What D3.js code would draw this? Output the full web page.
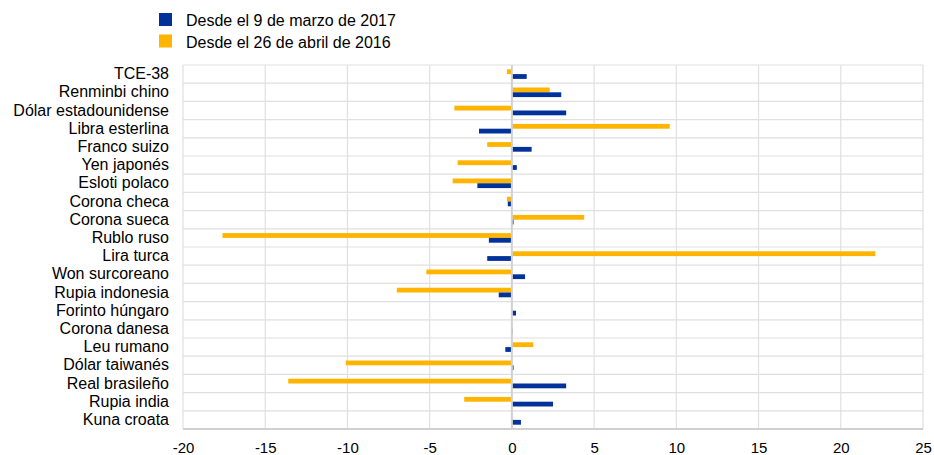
<!DOCTYPE html>
<html>
<head>
<meta charset="utf-8">
<script src="https://cdn.jsdelivr.net/npm/d3@7"></script>
<style>
  body { margin: 0; background: #fff; }
  svg { display: block; font-family: "Liberation Sans", Arial, sans-serif; }
</style>
</head>
<body>
<svg id="chart" width="934" height="455"></svg>
<script>
const categories = ["TCE-38", "Renminbi chino", "Dólar estadounidense", "Libra esterlina", "Franco suizo",
  "Yen japonés", "Esloti polaco", "Corona checa", "Corona sueca", "Rublo ruso", "Lira turca",
  "Won surcoreano", "Rupia indonesia", "Forinto húngaro", "Corona danesa", "Leu rumano",
  "Dólar taiwanés", "Real brasileño", "Rupia india", "Kuna croata"];
const seriesNames = ["Desde el 9 de marzo de 2017", "Desde el 26 de abril de 2016"];
const since2017 = [0.9, 3.0, 3.3, -2.0, 1.2, 0.3, -2.1, -0.25, 0.1, -1.4, -1.5, 0.8, -0.8, 0.25, 0.05, -0.4, 0.1, 3.3, 2.5, 0.55];
const since2016 = [-0.3, 2.3, -3.5, 9.6, -1.5, -3.3, -3.6, -0.3, 4.4, -17.6, 22.1, -5.2, -7.0, -0.05, 0.0, 1.3, -10.1, -13.6, -2.9, -0.05];
const xTicks = [-20, -15, -10, -5, 0, 5, 10, 15, 20, 25];
const colors = ["#003299", "#FFB400"];

const svg = d3.select("#chart");
const mLeft = 183, mRight = 923, mTop = 65, mBottom = 429;

const x = d3.scaleLinear().domain([-20, 25]).range([mLeft, mRight]);
const y = d3.scaleBand().domain(categories).range([mTop, mBottom]).paddingInner(0).paddingOuter(0);
// yellow (2016) drawn above blue (2017) in each band
const inner = d3.scaleBand().domain(["y2016", "y2017"]).range([0, y.bandwidth()]).paddingInner(0).paddingOuter(0.9);

// horizontal gridlines at band boundaries
const bounds = categories.map(c => y(c)).concat([mBottom]);
svg.append("g").selectAll("line").data(bounds).join("line")
  .attr("x1", mLeft).attr("x2", mRight)
  .attr("y1", d => d).attr("y2", d => d)
  .attr("stroke", "#e0e0e0").attr("stroke-width", 1.2);

// vertical gridlines
svg.append("g").selectAll("line").data(xTicks.filter(t => t !== 0)).join("line")
  .attr("x1", d => x(d)).attr("x2", d => x(d))
  .attr("y1", mTop).attr("y2", mBottom)
  .attr("stroke", "#e0e0e0").attr("stroke-width", 1.2);

// bars
const rows = categories.map((c, i) => ({ c, v2017: since2017[i], v2016: since2016[i] }));
const g = svg.append("g");
g.selectAll("rect.y16").data(rows).join("rect").attr("class", "y16")
  .attr("x", d => Math.min(x(0), x(d.v2016)))
  .attr("width", d => Math.abs(x(d.v2016) - x(0)))
  .attr("y", d => y(d.c) + inner("y2016"))
  .attr("height", inner.bandwidth())
  .attr("fill", colors[1]);
g.selectAll("rect.y17").data(rows).join("rect").attr("class", "y17")
  .attr("x", d => Math.min(x(0), x(d.v2017)))
  .attr("width", d => Math.abs(x(d.v2017) - x(0)))
  .attr("y", d => y(d.c) + inner("y2017"))
  .attr("height", inner.bandwidth())
  .attr("fill", colors[0]);

// zero line
svg.append("line")
  .attr("x1", x(0)).attr("x2", x(0)).attr("y1", mTop).attr("y2", mBottom)
  .attr("stroke", "#d0d0d0").attr("stroke-width", 2);

// bottom axis line
svg.append("line")
  .attr("x1", mLeft).attr("x2", mRight).attr("y1", mBottom).attr("y2", mBottom)
  .attr("stroke", "#d0d0d0").attr("stroke-width", 2);

// x axis labels
const xAxis = d3.axisBottom(x).tickValues(xTicks).tickSize(0).tickPadding(0).tickFormat(d3.format("d"));
const xa = svg.append("g").attr("transform", `translate(0,${mBottom})`).call(xAxis);
xa.select(".domain").remove();
xa.selectAll("text")
  .attr("y", 24).attr("dy", null)
  .attr("font-size", 15).attr("fill", "#000")
  .attr("font-family", "Liberation Sans, Arial, sans-serif")
  .text(d => d < 0 ? "-" + Math.abs(d) : d);

// y axis labels
const yAxis = d3.axisLeft(y).tickSize(0).tickPadding(14);
const ya = svg.append("g").attr("transform", `translate(${mLeft},0)`).call(yAxis);
ya.select(".domain").remove();
ya.selectAll("text")
  .attr("font-size", 16).attr("fill", "#000")
  .attr("font-family", "Liberation Sans, Arial, sans-serif");

// legend
const legend = svg.append("g");
const legY = [13, 34.5];
seriesNames.forEach((name, i) => {
  legend.append("rect").attr("x", 159).attr("y", legY[i]).attr("width", 13).attr("height", 13).attr("fill", colors[i]);
  legend.append("text").attr("x", 186).attr("y", legY[i] + 13).attr("font-size", 16).attr("fill", "#000").text(name);
});
</script>
</body>
</html>
